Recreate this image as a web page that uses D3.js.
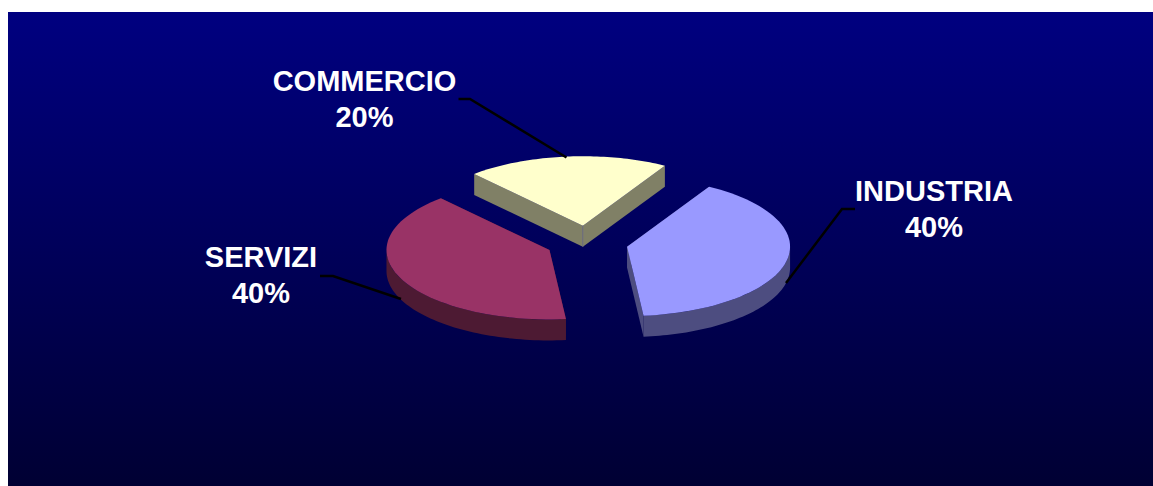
<!DOCTYPE html>
<html><head><meta charset="utf-8">
<script src="https://cdn.jsdelivr.net/npm/d3@7"></script>
<style>html,body{margin:0;padding:0;background:#fff;overflow:hidden}svg{display:block}</style>
</head><body><svg id="c" width="1153" height="486"></svg>
<script>
const categories = ["INDUSTRIA","SERVIZI","COMMERCIO"];
const values = [40,40,20];
const topColors = ["#9999FF","#993366","#FFFFCC"];
const wallColors = ["#4D4D80","#4D1A33","#808066"];

const svg = d3.select("#c");
const W=1153,H=486,cx=587,cy=243,rx=163,ry=69.4,depth=21,explode=41;
const defs = svg.append("defs");
const g = defs.append("linearGradient").attr("id","bg").attr("x1",0).attr("y1",0).attr("x2",0).attr("y2",1);
g.append("stop").attr("offset",0).attr("stop-color","#000080");
g.append("stop").attr("offset",1).attr("stop-color","#000033");
svg.append("rect").attr("x",8).attr("y",12).attr("width",W-8).attr("height",H-12).attr("fill","url(#bg)");

const start = 30.2*Math.PI/180;
const arcs = d3.pie().sort(null).startAngle(start).endAngle(start+2*Math.PI)(values);
const line = d3.line();
const order = [2,1,0];
order.forEach(i=>{
  const a = arcs[i], mid=(a.startAngle+a.endAngle)/2;
  const ox = cx+explode*Math.sin(mid), oy = cy-explode*(ry/rx)*Math.cos(mid);
  const pt = (t,dy=0)=>[ox+rx*Math.sin(t), oy-ry*Math.cos(t)+dy];
  const rim = (t0,t1,dy=0)=>d3.range(0,61).map(k=>pt(t0+(t1-t0)*k/60,dy));
  const s = svg.append("g").attr("class","slice").attr("data-name",categories[i]);
  [a.startAngle,a.endAngle].forEach(t=>{
    s.append("path").attr("fill",wallColors[i])
      .attr("d",line([[ox,oy],pt(t),pt(t,depth),[ox,oy+depth]])+"Z");
  });
  // visible outer wall: the front half of the ellipse
  [0,2*Math.PI].forEach(off=>{
    const t0=Math.max(a.startAngle,Math.PI/2+off), t1=Math.min(a.endAngle,3*Math.PI/2+off);
    if(t1>t0) s.append("path").attr("fill",wallColors[i])
      .attr("d",line(rim(t0,t1).concat(rim(t1,t0,depth)))+"Z");
  });
  s.append("path").attr("fill",topColors[i])
    .attr("d",line([[ox,oy]].concat(rim(a.startAngle,a.endAngle)))+"Z");
  // the two side walls of the small slice meet in a visible seam
  if(i===2) s.append("path").attr("stroke","#6E6E85").attr("stroke-width",1).attr("fill","none")
    .attr("d",line([[ox,oy],[ox,oy+depth]]));
});

const leaders = [
  [[855,209],[842,209],[786,283]],
  [[320,276],[333,276],[401,299]],
  [[458.5,99],[470,99],[566.5,157.5]]
];
leaders.forEach(p=>svg.append("path").attr("d",line(p)).attr("fill","none").attr("stroke","#000").attr("stroke-width",2.5));

const labelPos = [[934,201,237],[261,267,303],[364.5,91,127]];
categories.forEach((c,i)=>{
  const t = svg.append("text").attr("text-anchor","middle").attr("fill","#fff")
    .attr("font-family","'Liberation Sans',Arial,sans-serif").attr("font-weight","bold").attr("font-size",29);
  t.append("tspan").attr("x",labelPos[i][0]).attr("y",labelPos[i][1]).text(c);
  t.append("tspan").attr("x",labelPos[i][0]).attr("y",labelPos[i][2]).text(values[i]+"%");
});
</script></body></html>
